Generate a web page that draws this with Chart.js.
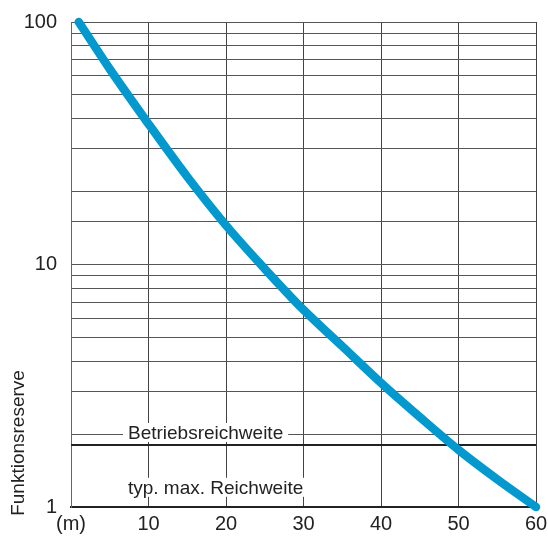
<!DOCTYPE html>
<html>
<head>
<meta charset="utf-8">
<script src="https://cdn.jsdelivr.net/npm/chart.js@4/dist/chart.umd.min.js"></script>
<style>
  html, body { margin: 0; padding: 0; background: #fff; }
  #wrap { width: 548px; height: 537px; position: relative; }
</style>
</head>
<body>
<div id="wrap"><canvas id="chart"></canvas></div>
<script>
// Distance (m) vs. Funktionsreserve
const distances = [1, 5, 10, 15, 20, 25, 30, 35, 40, 45, 50, 55, 60];
const reserve = [100, 64, 38, 23, 14.5, 9.6, 6.5, 4.6, 3.25, 2.35, 1.72, 1.3, 1];

const xTicks = [0, 10, 20, 30, 40, 50, 60];
const yLabelled = [1, 10, 100];
const thresholdValue = 1.8;

const FONT = 'Liberation Sans, Arial, sans-serif';

// text notes drawn on the plot (x start in metres, y in reserve units)
const notes = [
  { text: 'Betriebsreichweite', x: 7.35, y: 2.02 },
  { text: 'typ. max. Reichweite', x: 7.35, y: 1.2 }
];

const notesPlugin = {
  id: 'notes',
  afterDatasetsDraw(chart) {
    const { ctx, scales } = chart;
    ctx.save();
    ctx.font = '19px ' + FONT;
    ctx.textBaseline = 'middle';
    ctx.textAlign = 'left';
    notes.forEach(n => {
      const px = scales.x.getPixelForValue(n.x);
      const py = scales.y.getPixelForValue(n.y);
      const w = ctx.measureText(n.text).width;
      ctx.fillStyle = '#fff';
      ctx.fillRect(px - 5, py - 10, w + 10, 19);
      ctx.fillStyle = '#222';
      ctx.fillText(n.text, px, py + 1);
    });
    // y axis title, sits low next to the axis
    ctx.translate(19, 443);
    ctx.rotate(-Math.PI / 2);
    ctx.textAlign = 'center';
    ctx.fillText('Funktionsreserve', 0, 0);
    ctx.restore();
  }
};

new Chart(document.getElementById('chart'), {
  type: 'line',
  data: {
    datasets: [
      {
        data: [{ x: 0, y: thresholdValue }, { x: 60, y: thresholdValue }],
        borderColor: '#222',
        borderWidth: 2,
        pointRadius: 0,
        order: 2
      },
      {
        data: distances.map((d, i) => ({ x: d, y: reserve[i] })),
        borderColor: '#0399cf',
        borderWidth: 8.5,
        borderCapStyle: 'round',
        pointRadius: 0,
        cubicInterpolationMode: 'monotone',
        clip: false,
        order: 1
      }
    ]
  },
  options: {
    responsive: true,
    maintainAspectRatio: false,
    animation: false,
    layout: { padding: { top: 22, right: 12, left: 0, bottom: 0 } },
    plugins: { legend: { display: false }, tooltip: { enabled: false } },
    scales: {
      x: {
        type: 'linear',
        min: 0,
        max: 60,
        afterBuildTicks: s => { s.ticks = xTicks.map(v => ({ value: v })); },
        afterFit: s => { s.height = 30; s.paddingLeft = 0; s.paddingRight = 0; },
        grid: { color: '#444', lineWidth: 1, drawTicks: false },
        border: { color: '#222', width: 2 },
        ticks: {
          padding: 5,
          color: '#222',
          font: { family: FONT, size: 20 },
          callback: v => v === 0 ? '(m)' : v
        }
      },
      y: {
        type: 'logarithmic',
        min: 1,
        max: 100,
        afterFit: s => { s.width = 71; s.paddingTop = 0; s.paddingBottom = 0; },
        grid: { color: '#555', lineWidth: 1, drawTicks: false },
        border: { color: '#666', width: 1 },
        ticks: {
          autoSkip: false,
          padding: 14,
          color: '#222',
          font: { family: FONT, size: 20 },
          callback: v => yLabelled.includes(v) ? String(v) : ''
        }
      }
    }
  },
  plugins: [notesPlugin]
});
</script>
</body>
</html>
